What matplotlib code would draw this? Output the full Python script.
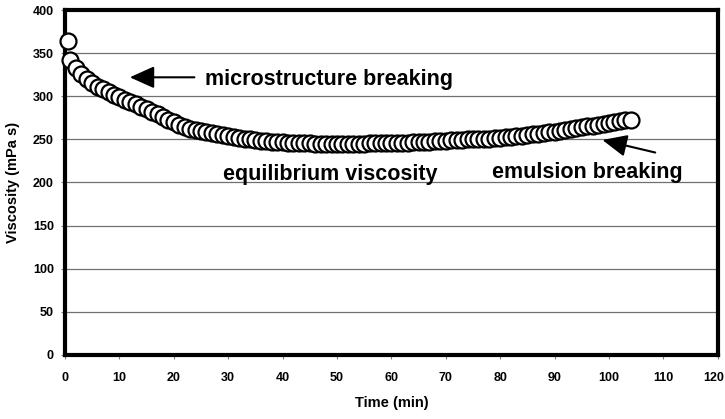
import numpy as np
import matplotlib
matplotlib.use("Agg")
import matplotlib.pyplot as plt
from matplotlib.transforms import ScaledTranslation

# --- Data (viscosity vs time) ---
time_min = [0.5] + list(range(1, 105))
viscosity = [
    364, 342, 333, 326, 320, 315, 311, 308, 305, 302,
    299, 296, 293, 291, 288, 285, 282, 279, 276, 273,
    270, 267, 264, 262, 261, 260, 258, 257, 256, 255,
    254, 253, 252, 251, 250, 249, 248, 248, 247, 247,
    247, 246, 246, 246, 246, 246, 245, 245, 245, 245,
    245, 245, 245, 245, 245, 245, 246, 246, 246, 246,
    246, 246, 246, 246, 247, 247, 247, 247, 248, 248,
    248, 249, 249, 249, 250, 250, 251, 251, 251, 252,
    252, 253, 253, 254, 254, 255, 256, 256, 257, 258,
    259, 260, 261, 262, 263, 264, 265, 266, 267, 268,
    269, 270, 271, 272, 273,
]
x_ticks = list(range(0, 121, 10))
y_ticks = list(range(0, 401, 50))

plt.rcParams['font.family'] = ['Liberation Sans', 'DejaVu Sans']

fig = plt.figure(figsize=(7.25, 4.19), dpi=100)
ax = fig.add_axes([0.0897, 0.153, 0.9003, 0.823])

ax.plot(time_min, viscosity, linestyle='none', marker='o', markersize=11.5,
        markerfacecolor='white', markeredgecolor='black', markeredgewidth=1.6,
        zorder=3, clip_on=False)

ax.set_xlim(0, 120)
ax.set_ylim(0, 400)
ax.set_xticks(x_ticks)
ax.set_yticks(y_ticks)
ax.tick_params(axis='both', labelsize=9, length=3, color='#808080', width=0.8)
ax.tick_params(axis='x', pad=9)
ax.tick_params(axis='y', pad=5)
for lbl in ax.get_xticklabels() + ax.get_yticklabels():
    lbl.set_fontweight('bold')
# last x label sits on the figure edge, nudge it in a little
last = ax.get_xticklabels()[-1]
last.set_transform(last.get_transform() + ScaledTranslation(-4 / 100, 0, fig.dpi_scale_trans))

ax.yaxis.grid(True, color='#707070', linewidth=0.9)
ax.set_axisbelow(True)
for s in ax.spines.values():
    s.set_linewidth(3)
    s.set_color('black')

ax.set_xlabel("Time (min)", fontsize=10.5, fontweight='bold', labelpad=9)
ax.set_ylabel("Viscosity (mPa s)", fontsize=10.5, fontweight='bold', labelpad=9)

# --- Annotations ---
ax.annotate('', xy=(11.4, 322), xytext=(24.3, 322),
            arrowprops=dict(arrowstyle='-|>,head_length=1.0,head_width=0.45',
                            mutation_scale=15, color='black', lw=1.5))
ax.text(25.7, 319, "microstructure breaking", fontsize=15.5, fontweight='bold',
        ha='left', va='center')
ax.text(29, 209, "equilibrium viscosity", fontsize=15.5, fontweight='bold',
        ha='left', va='center')
ax.annotate('', xy=(98.3, 250), xytext=(109, 234),
            arrowprops=dict(arrowstyle='-|>,head_length=1.0,head_width=0.45',
                            mutation_scale=15, color='black', lw=1.5))
ax.text(78.5, 212, "emulsion breaking", fontsize=15.5, fontweight='bold',
        ha='left', va='center')

fig.savefig("out.png", dpi=100)
